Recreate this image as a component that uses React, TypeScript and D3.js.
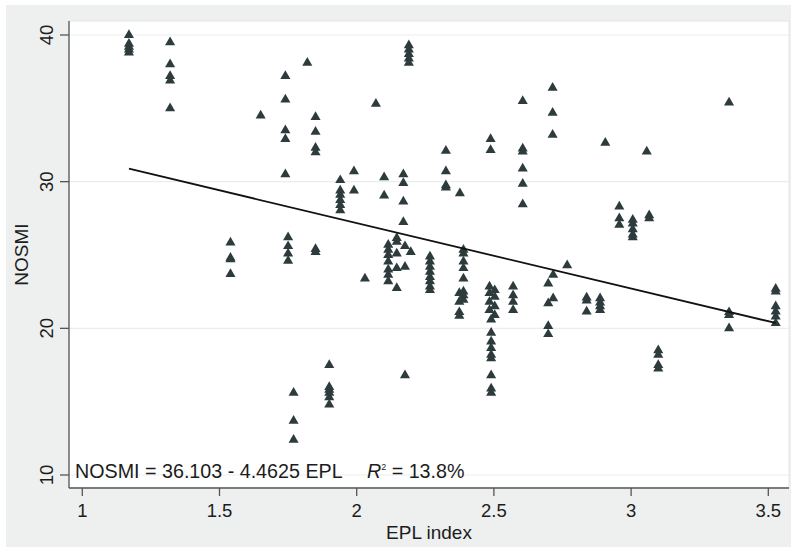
import * as d3 from 'd3';

// EPL index (x) and NOSMI (y), one line per country column
const epl = [
  1.17, 1.17, 1.17, 1.17, 1.17,
  1.32, 1.32, 1.32, 1.32, 1.32,
  1.54, 1.54, 1.54, 1.54,
  1.65,
  1.74, 1.74, 1.74, 1.74, 1.74,
  1.75, 1.75, 1.75, 1.75,
  1.77, 1.77, 1.77,
  1.82,
  1.85, 1.85, 1.85, 1.85, 1.85, 1.85,
  1.9, 1.9, 1.9, 1.9, 1.9, 1.9,
  1.94, 1.94, 1.94, 1.94, 1.94, 1.94,
  1.99, 1.99,
  2.03,
  2.07,
  2.1, 2.1,
  2.115, 2.115, 2.115, 2.115, 2.115, 2.115, 2.115,
  2.146, 2.146, 2.146, 2.146, 2.146,
  2.17, 2.17, 2.17, 2.17,
  2.176, 2.176, 2.176,
  2.19, 2.19, 2.19, 2.19, 2.19,
  2.197,
  2.267, 2.267, 2.267, 2.267, 2.267, 2.267, 2.267, 2.267,
  2.325, 2.325, 2.325, 2.325,
  2.376,
  2.374, 2.374, 2.374, 2.374,
  2.389, 2.389, 2.389, 2.389, 2.389, 2.389, 2.389, 2.389,
  2.488, 2.488,
  2.484, 2.503, 2.484, 2.503, 2.484, 2.503, 2.484, 2.503, 2.49,
  2.49, 2.49, 2.49, 2.49, 2.49, 2.49, 2.49, 2.49,
  2.57, 2.57, 2.57, 2.57,
  2.605, 2.605, 2.605, 2.605, 2.605, 2.605,
  2.698, 2.698, 2.698, 2.698,
  2.714, 2.714, 2.714,
  2.716, 2.716,
  2.767,
  2.838, 2.838, 2.838,
  2.887, 2.887, 2.887, 2.887,
  2.906,
  2.957, 2.957, 2.957,
  3.006, 3.006, 3.006, 3.006, 3.006,
  3.057,
  3.066, 3.066,
  3.099, 3.099, 3.099, 3.099,
  3.357, 3.357, 3.357, 3.357,
  3.527, 3.527, 3.527, 3.527, 3.527, 3.527,
];

const nosmi = [
  40.0, 39.4, 39.2, 39.0, 38.8,
  39.5, 38.0, 37.2, 36.9, 35.0,
  25.85, 24.8, 24.7, 23.7,
  34.5,
  37.2, 35.6, 33.5, 32.9, 30.5,
  26.2, 25.6, 25.1, 24.6,
  15.6, 13.7, 12.4,
  38.1,
  34.4, 33.4, 32.3, 32.0, 25.4, 25.2,
  17.5, 16.0, 15.8, 15.6, 15.3, 14.8,
  30.1, 29.4, 29.1, 28.75, 28.4, 28.05,
  30.7, 29.4,
  23.4,
  35.3,
  30.3, 29.05,
  25.7, 25.35, 25.0, 24.55, 24.0, 23.65, 23.2,
  26.15, 25.9, 25.1, 24.1, 22.75,
  30.5, 29.9, 28.65, 27.25,
  25.6, 24.2, 16.8,
  39.3, 39.0, 38.7, 38.4, 38.1,
  25.2,
  24.9, 24.55, 24.2, 23.85, 23.5, 23.2, 22.85, 22.6,
  32.1, 30.7, 29.75, 29.6,
  29.2,
  22.4, 21.8, 21.1, 20.85,
  25.35, 25.1, 24.55, 24.1, 23.4, 22.5, 22.25, 21.95,
  32.9, 32.15,
  22.85, 22.6, 22.4, 22.15, 21.8, 21.5, 21.25, 20.9, 20.6,
  19.7, 19.1, 18.65, 18.2, 17.95, 16.8, 15.9, 15.6,
  22.85, 22.25, 21.8, 21.25,
  35.5, 32.25, 32.05, 30.9, 29.85, 28.45,
  23.05, 21.7, 20.15, 19.6,
  36.4, 34.7, 33.2,
  23.65, 22.05,
  24.3,
  22.1, 21.9, 21.15,
  22.05, 21.75, 21.5, 21.25,
  32.65,
  28.3, 27.5, 27.05,
  27.4, 27.15, 26.75, 26.4, 26.2,
  32.05,
  27.7, 27.5,
  18.5, 18.2, 17.5, 17.25,
  35.4, 21.1, 20.9, 20.0,
  22.7, 22.5, 21.5, 21.15, 20.8, 20.35,
];

const xTicks = [1, 1.5, 2, 2.5, 3, 3.5];
const yTicks = [10, 20, 30, 40];
const intercept = 36.103;
const slope = -4.4625;
const rSquared = '13.8%';

const W = 791;
const H = 547;
const FONT = '"Liberation Sans", Arial, Helvetica, sans-serif';
const INK = '#1c1c1c';
const MARK = '#2d3b3c';

export default function App() {
  const plot = { left: 69, right: 789, top: 21, bottom: 488 };
  const x = d3.scaleLinear().domain([1, 3.5]).range([82.3, 768.3]);
  const y = d3.scaleLinear().domain([10, 40]).range([475, 35]);

  const tri = d3.symbol(d3.symbolTriangle, 44)()!;
  const [x0, x1] = d3.extent(epl) as [number, number];
  const fit = d3.line<number>()
    .x(d => x(d))
    .y(d => y(intercept + slope * d));

  return (
    <div>
      <style>{`body{margin:0}`}</style>
      <svg width={W} height={H} style={{ display: 'block', fontFamily: FONT }}>
        <rect x={0} y={0} width={W} height={H} fill="#ffffff" />
        <rect x={6} y={5} width={W - 6} height={H - 5} fill="#eef0f0" />
        <rect
          x={plot.left}
          y={plot.top}
          width={plot.right - plot.left}
          height={plot.bottom - plot.top}
          fill="#ffffff"
          stroke="#e4e6e6"
          strokeWidth={1}
        />

        {/* gridlines */}
        {yTicks.map(t => (
          <line key={`g${t}`} x1={plot.left} x2={plot.right} y1={y(t)} y2={y(t)}
            stroke="#ebeded" strokeWidth={1.2} />
        ))}

        {/* y axis */}
        <line x1={plot.left} x2={plot.left} y1={plot.top} y2={plot.bottom}
          stroke="#555" strokeWidth={1.3} />
        {yTicks.map(t => (
          <g key={`y${t}`}>
            <line x1={60} x2={plot.left} y1={y(t)} y2={y(t)} stroke="#555" strokeWidth={1.3} />
            <text
              transform={`translate(53,${y(t)}) rotate(-90)`}
              textAnchor="middle"
              fontSize={18.5}
              fill={INK}
            >{t}</text>
          </g>
        ))}
        <text transform={`translate(28,${(plot.top + plot.bottom) / 2}) rotate(-90)`}
          textAnchor="middle" fontSize={19} fill={INK}>NOSMI</text>

        {/* x axis */}
        <line x1={plot.left} x2={plot.right} y1={plot.bottom} y2={plot.bottom}
          stroke="#555" strokeWidth={1.3} />
        {xTicks.map(t => (
          <g key={`x${t}`}>
            <line x1={x(t)} x2={x(t)} y1={plot.bottom} y2={plot.bottom + 8} stroke="#555" strokeWidth={1.3} />
            <text x={x(t)} y={517} textAnchor="middle" fontSize={18.5} fill={INK}>{t}</text>
          </g>
        ))}
        <text x={(plot.left + plot.right) / 2} y={539} textAnchor="middle" fontSize={19} fill={INK}>
          EPL index
        </text>

        {/* points */}
        {epl.map((e, i) => (
          <path key={i} d={tri} transform={`translate(${x(e)},${y(nosmi[i])})`} fill={MARK} />
        ))}

        {/* fitted line */}
        <path d={fit([x0, x1])!} fill="none" stroke="#111" strokeWidth={1.8} />

        {/* annotation */}
        <text x={75} y={478} fontSize={19.7} fill={INK}>
          NOSMI = {intercept} - {Math.abs(slope)} EPL
        </text>
        <text x={367} y={478} fontSize={19.7} fill={INK}>
          <tspan fontStyle="italic">R</tspan>
          <tspan fontSize={9} dy={-8}>2</tspan>
          <tspan dy={8}> = {rSquared}</tspan>
        </text>
      </svg>
    </div>
  );
}
